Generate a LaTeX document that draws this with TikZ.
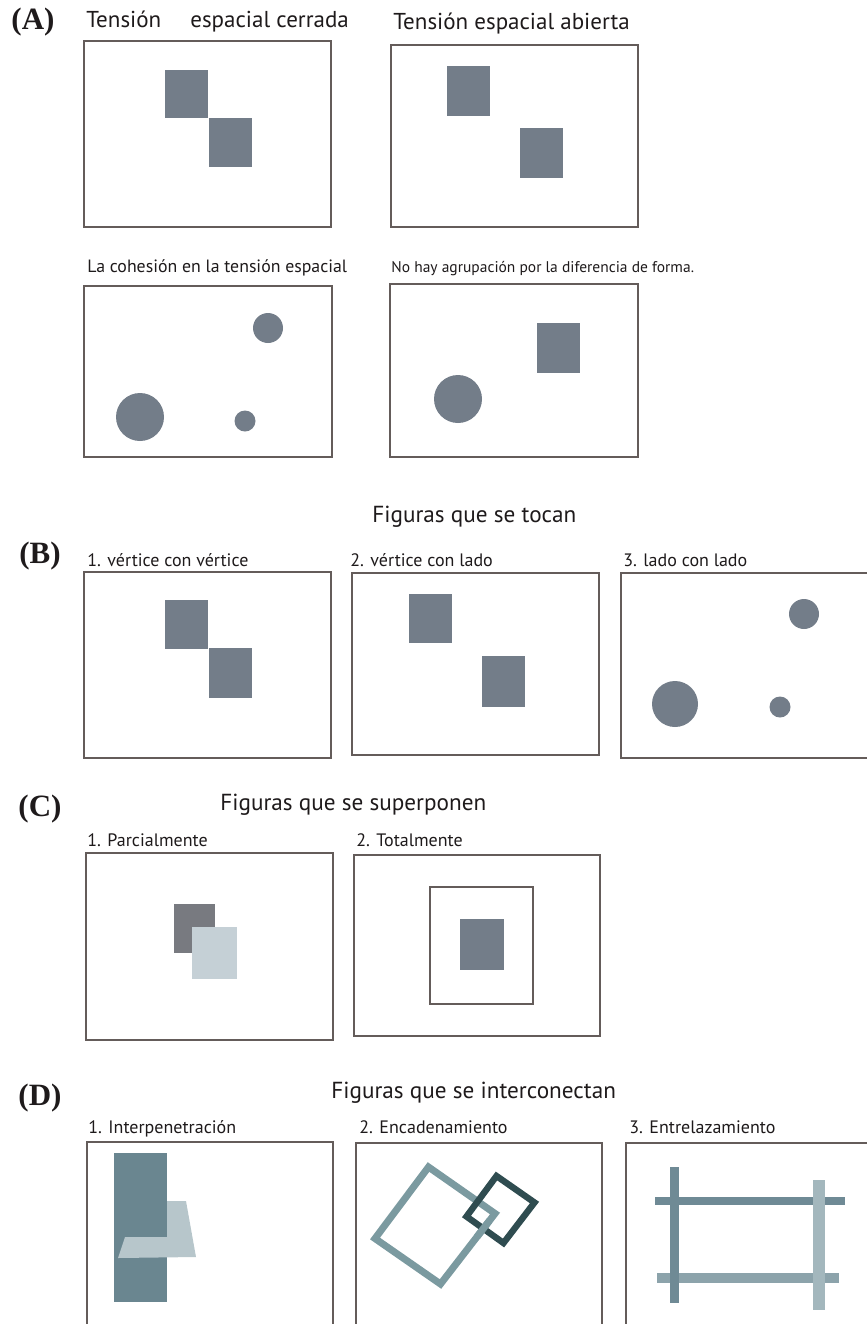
\documentclass[tikz,border=0pt]{standalone}
\usepackage{fontspec}
\setmainfont{PT Sans}
\newfontfamily\partfont{Liberation Serif}
\usepackage{tikz}
\usetikzlibrary{positioning}

\begin{document}
\begin{tikzpicture}[x=0.5pt,y=0.5pt,yscale=-1,
  panel/.style={draw={rgb,255:red,100;green,92;blue,90},line width=0.75pt},
  block/.style={fill={rgb,255:red,115;green,125;blue,137}},
  partlabel/.style={text={rgb,255:red,30;green,26;blue,27},font=\partfont\bfseries\fontsize{15.5}{15.5}\selectfont},
  heading/.style={anchor=base west,inner sep=0pt,text={rgb,255:red,30;green,26;blue,27},font=\fontsize{11.6}{11.6}\selectfont},
  titleA/.style={anchor=base west,inner sep=0pt,text={rgb,255:red,30;green,26;blue,27},font=\fontsize{11.5}{11.5}\selectfont},
  caption/.style={anchor=base west,inner sep=0pt,text={rgb,255:red,30;green,26;blue,27},font=\fontsize{9}{9}\selectfont}]
\useasboundingbox (0,0) rectangle (867,1324);
\clip (0,0) rectangle (867,1324);

% ---- (A) ----
% Text Node
\draw (33,22) node (lblA) [partlabel] {(A)};
% Text Node
\draw (86,27) node (ttlAa) [titleA] {Tensión\quad\ espacial cerrada};
% Text Node
\draw (393,29) node (ttlAb) [titleA] {Tensión espacial abierta};
% Text Node
\draw (87,272) node (ttlAc) [caption,font=\fontsize{8.9}{8.9}\selectfont] {La cohesión en la tensión espacial};
% Text Node
\draw (391,272) node (ttlAd) [caption,font=\fontsize{7.75}{7.75}\selectfont] {No hay agrupación por la diferencia de forma.};
%Frame
\draw [panel] (84,41) rectangle (331,227);
\draw [panel] (391,45) rectangle (638,227);
\draw [panel] (84,286) rectangle (332,457);
\draw [panel] (390,284) rectangle (638,457);
%Squares
\fill [block] (165,70) rectangle (208,118);
\fill [block] (209,118) rectangle (252,167);
\fill [block] (447,66) rectangle (490,116);
\fill [block] (520,128) rectangle (563,178);
%Circles
\fill [block] (268,328) circle (15);
\fill [block] (140,417) circle (24);
\fill [block] (245,421) circle (10.5);
\fill [block] (537,323) rectangle (580,373);
\fill [block] (458,399) circle (24);

% ---- (B) ----
% Text Node
\draw (372,522) node (hdB) [heading] {Figuras que se tocan};
% Text Node
\draw (40,556) node (lblB) [partlabel] {(B)};
% Text Node
\draw (87,566) node (capBa) [caption] {1. vértice con vértice};
% Text Node
\draw (350,566) node (capBb) [caption] {2. vértice con lado};
% Text Node
\draw (623,566) node (capBc) [caption] {3. lado con lado};
%Frame
\draw [panel] (84,572) rectangle (331,758);
\draw [panel] (352,573) rectangle (599,755);
\draw [panel] (621,573) rectangle (880,758);
%Squares
\fill [block] (165,600) rectangle (208,649);
\fill [block] (209,648) rectangle (252,698);
\fill [block] (409,594) rectangle (452,643);
\fill [block] (482,656) rectangle (525,707);
%Circles
\fill [block] (804,614) circle (15);
\fill [block] (675,704) circle (23);
\fill [block] (780,707) circle (10.5);

% ---- (C) ----
% Text Node
\draw (40,809) node (lblC) [partlabel] {(C)};
% Text Node
\draw (220,810) node (hdC) [heading] {Figuras que se superponen};
% Text Node
\draw (87,846) node (capCa) [caption] {1. Parcialmente};
% Text Node
\draw (356,846) node (capCb) [caption] {2. Totalmente};
%Frame
\draw [panel] (86,853) rectangle (333,1040);
\draw [panel] (354,855) rectangle (600,1036);
\draw [panel] (430,887) rectangle (533,1004);
%Squares
\fill [fill={rgb,255:red,120;green,122;blue,128}] (174,904) rectangle (215,953);
\fill [fill={rgb,255:red,197;green,208;blue,214}] (192,927) rectangle (237,979);
\fill [block] (460,919) rectangle (504,970);

% ---- (D) ----
% Text Node
\draw (40,1098) node (lblD) [partlabel] {(D)};
% Text Node
\draw (331,1098) node (hdD) [heading] {Figuras que se interconectan};
% Text Node
\draw (88,1133) node (capDa) [caption] {1. Interpenetración};
% Text Node
\draw (359,1133) node (capDb) [caption] {2. Encadenamiento};
% Text Node
\draw (629,1133) node (capDc) [caption] {3. Entrelazamiento};
%Frame
\draw [panel] (87,1142) rectangle (333,1340);
\draw [panel] (356,1143) rectangle (602,1340);
\draw [panel] (626,1143) rectangle (880,1340);
%Interpenetration
\fill [fill={rgb,255:red,106;green,134;blue,144}] (114,1153) rectangle (167,1302);
\fill [fill={rgb,255:red,183;green,198;blue,203}] (167,1201) -- (186,1201) -- (196,1257) -- (118,1258) -- (125,1237) -- (167,1237) -- cycle;
%Chain
\draw [line width=3.5pt,draw={rgb,255:red,123;green,154;blue,160}] (428.5,1167) -- (495,1213.5) -- (440.5,1284) -- (375,1238.5) -- cycle;
\draw [line width=3.2pt,draw={rgb,255:red,47;green,76;blue,80}] (496.5,1176) -- (534.5,1202.5) -- (503.5,1243) -- (466.5,1216.5) -- cycle;
\draw [line width=3.5pt,draw={rgb,255:red,123;green,154;blue,160}] (489.6,1220.5) -- (477,1236.8);
%Interlacing
\fill [fill={rgb,255:red,111;green,138;blue,149}] (655,1197) rectangle (845,1205);
\fill [fill={rgb,255:red,140;green,163;blue,171}] (657,1273) rectangle (839,1283);
\fill [fill={rgb,255:red,111;green,138;blue,149}] (670,1167) rectangle (679,1303);
\fill [fill={rgb,255:red,163;green,183;blue,189}] (813,1180) rectangle (825,1310);

\end{tikzpicture}
\end{document}
